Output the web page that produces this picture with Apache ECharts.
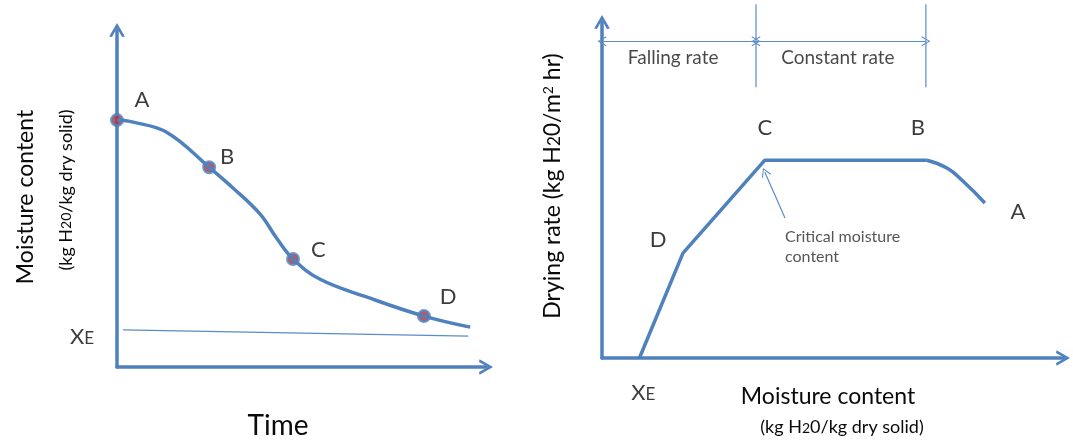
<!DOCTYPE html>
<html><head><meta charset="utf-8">
<script src="https://cdn.jsdelivr.net/npm/echarts@6/dist/echarts.min.js"></script>
<style>html,body{margin:0;padding:0;background:#fff}#c{width:1073px;height:441px}</style>
</head><body><div id="c"></div>
<script>
// ---- Left panel: moisture content vs time (schematic units 0..10)
const dryCurve = [[0,7.18],[0.43,7.12],[1.33,6.82],[2.45,5.81],[3.09,5.20],[3.80,4.45],[4.26,3.72],[4.68,3.14],[5.40,2.55],[6.65,2.03],[8.16,1.48],[9.39,1.16]];
const dryPoints = [[0,7.18],[2.45,5.81],[4.68,3.14],[8.16,1.48]];
const pointNames = ['A','B','C','D'];
const dryLabelPos = [[0.66,7.76],[2.93,6.10],[5.35,3.40],[8.80,2.03]];
const equilibriumLine = [[0.16,1.08],[9.34,0.90]];
const leftXE = [[-0.93,0.88]];
// ---- Right panel: drying rate vs moisture content
const rateLinear = [[0.8,0],[1.73,3.06],[3.48,5.77],[6.94,5.77]];
const rateCurve = [[6.94,5.77],[7.37,5.54],[7.71,5.16],[8.18,4.52]];
const rateLabelNames = ['A','B','C','D'];
const rateLabelPos = [[8.89,4.26],[6.75,6.71],[3.48,6.71],[1.20,3.44]];
const rightXE = [[0.88,-1.02]];
const bracketLeftX = 3.29, bracketRightX = 6.92, bracketTop = 10.32, bracketBottom = 7.90, bracketArrowY = 9.24, bracketStartX = 0.0;
const regionLabels = [['Falling rate',1.52,8.75],['Constant rate',5.04,8.75]];
const criticalArrow = [[3.91,4.08],[3.48,5.42]];
const criticalLabel = [[3.91,3.24]];

const BLUE = '#4f81bd', THIN = '#5b8cc9', FONT = 'Lato, "Open Sans", sans-serif', INK = '#0a0a0a';
const chevron = 'path://M0,12 L7,0 L14,12 L11.5,12.5 L7,4.5 L2.5,12.5 Z';
const smallChevron = 'path://M0,10 L5,0 L10,10 L9,10.6 L5,2.2 L1,10.6 Z';

function axisCommon(max, gridIndex){
  return {type:'value', min:0, max:max, gridIndex:gridIndex,
    splitLine:{show:false}, axisTick:{show:false}, axisLabel:{show:false},
    axisLine:{show:true, onZero:false, symbol:['none',chevron], symbolSize:[16,14],
      lineStyle:{color:BLUE, width:3.5}}};
}
function labelSeries(xi, yi, pts, names, size){
  return {type:'scatter', xAxisIndex:xi, yAxisIndex:yi, symbolSize:0, clip:false, silent:true,
    data: pts.map((p,i)=>({value:p, name:names[i]})),
    label:{show:true, position:'inside', formatter:'{b}', color:INK, fontSize:size, fontFamily:FONT}};
}
const xeRich = {x:{fontSize:22,fontFamily:FONT,color:INK}, e:{fontSize:17,fontFamily:FONT,color:INK, padding:[4,0,0,0]}};

const chart = echarts.init(document.getElementById('c'), null, {renderer:'canvas'});
chart.setOption({
  animation:false,
  backgroundColor:'#fff',
  grid:[{left:117, top:30, width:369, height:337},{left:602, top:22, width:461, height:336}],
  xAxis:[axisCommon(9.81,0), axisCommon(9.85,1)],
  yAxis:[axisCommon(9.80,0), axisCommon(9.80,1)],
  series:[
    {type:'line', xAxisIndex:0, yAxisIndex:0, data:equilibriumLine, symbol:'none', lineStyle:{color:THIN, width:1.2}, silent:true},
    {type:'line', xAxisIndex:0, yAxisIndex:0, data:dryCurve, smooth:0.4, symbol:'none', lineStyle:{color:BLUE, width:3.5}, silent:true},
    {type:'scatter', xAxisIndex:0, yAxisIndex:0, data:dryPoints, symbolSize:11, clip:false,
      itemStyle:{color:'#c0282d', borderColor:BLUE, borderWidth:3}, silent:true},
    labelSeries(0,0,dryLabelPos,pointNames,22),
    {type:'scatter', xAxisIndex:0, yAxisIndex:0, symbolSize:0, clip:false, silent:true, data:leftXE,
      label:{show:true, position:'inside', formatter:'{x|X}{e|E}', rich:xeRich}},
    {type:'line', xAxisIndex:1, yAxisIndex:1, data:rateLinear, symbol:'none', lineStyle:{color:BLUE, width:3.5}, silent:true},
    {type:'line', xAxisIndex:1, yAxisIndex:1, data:rateCurve, smooth:0.5, symbol:'none', lineStyle:{color:BLUE, width:3.5}, silent:true},
    labelSeries(1,1,rateLabelPos,rateLabelNames,22),
    {type:'scatter', xAxisIndex:1, yAxisIndex:1, symbolSize:0, clip:false, silent:true, data:rightXE,
      label:{show:true, position:'inside', formatter:'{x|X}{e|E}', rich:xeRich}},
    {type:'line', xAxisIndex:1, yAxisIndex:1, clip:false, symbol:'none', silent:true, data:[[bracketLeftX,bracketTop],[bracketLeftX,bracketBottom]], lineStyle:{color:THIN,width:1.2}},
    {type:'line', xAxisIndex:1, yAxisIndex:1, clip:false, symbol:'none', silent:true, data:[[bracketRightX,bracketTop],[bracketRightX,bracketBottom]], lineStyle:{color:THIN,width:1.2}},
    {type:'scatter', xAxisIndex:1, yAxisIndex:1, symbolSize:0, clip:false, silent:true,
      data: regionLabels.map(r=>({value:[r[1],r[2]], name:r[0]})),
      label:{show:true, position:'inside', formatter:'{b}', color:'#1a1a1a', fontSize:19, fontFamily:FONT},
      markLine:{silent:true, symbol:[smallChevron,smallChevron], symbolSize:[10,9], precision:3,
        lineStyle:{color:THIN, width:1.2, type:'solid'}, label:{show:false},
        data:[
          [{coord:[bracketStartX,bracketArrowY]},{coord:[bracketLeftX,bracketArrowY]}],
          [{coord:[bracketLeftX,bracketArrowY]},{coord:[bracketRightX,bracketArrowY]}]
        ]}},
    {type:'scatter', xAxisIndex:1, yAxisIndex:1, symbolSize:0, clip:false, silent:true,
      data: criticalLabel.map(p=>({value:p, name:'Critical moisture\ncontent'})),
      label:{show:true, position:'right', distance:0, align:'left', formatter:'{b}', color:'#2a2a2a', fontSize:16, lineHeight:20, fontFamily:FONT},
      markLine:{silent:true, symbol:['none',smallChevron], symbolSize:[10,9], precision:3,
        lineStyle:{color:THIN, width:1.2, type:'solid'}, label:{show:false},
        data:[[{coord:criticalArrow[0]},{coord:criticalArrow[1]}]]}}
  ],
  graphic:[
    {type:'text', x:26, y:197, rotation:Math.PI/2, style:{text:'Moisture content', font:'23px '+FONT, fill:INK, align:'center', verticalAlign:'middle'}},
    {type:'text', x:66, y:190, rotation:Math.PI/2, style:{text:'{a|(kg H}{s|20}{a|/kg dry solid)}', align:'center', verticalAlign:'middle',
      rich:{a:{fontSize:18,fontFamily:FONT,fill:INK}, s:{fontSize:14,fontFamily:FONT,fill:INK}}}},
    {type:'text', x:278, y:426, style:{text:'Time', font:'28px '+FONT, fill:INK, align:'center', verticalAlign:'middle'}},
    {type:'text', x:553, y:186, rotation:Math.PI/2, style:{text:'{a|Drying rate (kg H}{s|2}{a|0/m}{p|2}{a| hr)}', align:'center', verticalAlign:'middle',
      rich:{a:{fontSize:23,fontFamily:FONT,fill:INK}, s:{fontSize:17,fontFamily:FONT,fill:INK,padding:[4,0,0,0]}, p:{fontSize:14,fontFamily:FONT,fill:INK,padding:[0,0,10,0]}}}},
    {type:'text', x:828, y:397, style:{text:'Moisture content', font:'23px '+FONT, fill:INK, align:'center', verticalAlign:'middle'}},
    {type:'text', x:842, y:427, style:{text:'{a|(kg H}{s|2}{a|0/kg dry solid)}', align:'center', verticalAlign:'middle',
      rich:{a:{fontSize:18,fontFamily:FONT,fill:INK}, s:{fontSize:14,fontFamily:FONT,fill:INK,padding:[3,0,0,0]}}}}
  ]
});
</script></body></html>
